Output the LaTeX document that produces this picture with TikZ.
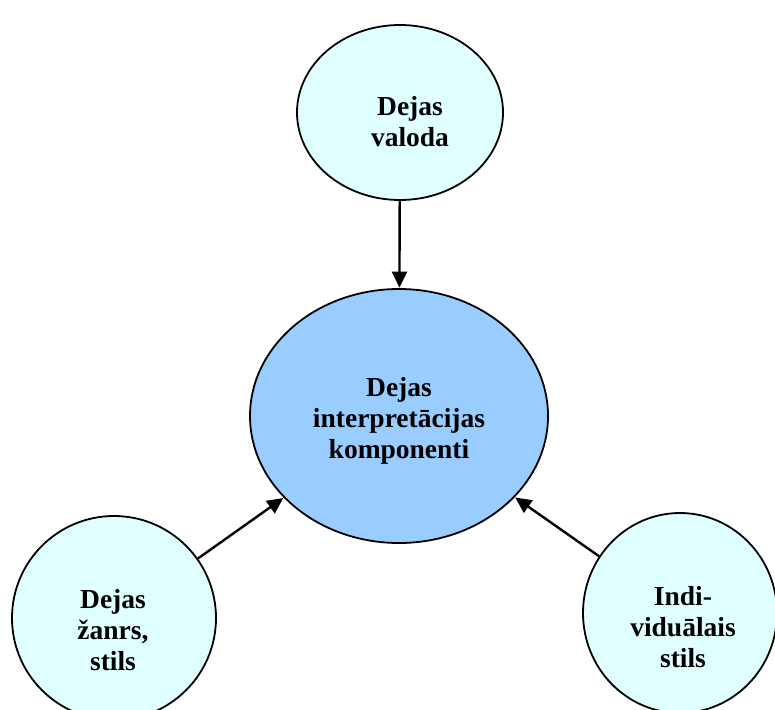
\documentclass[tikz,border=0pt]{standalone}
\usepackage{fontspec}
\setmainfont{Liberation Serif}
\usetikzlibrary{shapes.geometric,arrows.meta}
\begin{document}
\begin{tikzpicture}[x=1pt,y=-1pt,
  bubble/.style={ellipse,draw=black,line width=1.8pt,inner sep=0pt},
  outer/.style={bubble,fill={rgb,255:red,224;green,255;blue,255}},
  core/.style={bubble,fill={rgb,255:red,153;green,204;blue,255}},
  caption/.style={align=center,font=\bfseries\fontsize{27.5}{31}\selectfont,inner sep=0pt},
  link/.style={line width=2.4pt,-{Triangle[length=16pt,width=15pt]},shorten >=0.5pt}
]
\useasboundingbox (0,0) rectangle (775,709);
\fill[white] (0,0) rectangle (775,709);
\begin{scope}
\clip (0,0) rectangle (775,709);
% the four ellipses
\node[outer,minimum width=206pt,minimum height=175pt] (lang) at (400,112.5) {};
\node[core,minimum width=298pt,minimum height=254pt] (core) at (399,416) {};
\node[outer,minimum width=204pt,minimum height=204pt] (genre) at (114,618) {};
\node[outer,minimum width=194pt,minimum height=200pt] (style) at (680,613) {};
\end{scope}
% captions
\node[caption] (langtxt) at (410,122) {Dejas\\valoda};
\node[caption] (coretxt) at (399,421) {Dejas\\interpretācijas\\komponenti};
\node[caption] (genretxt) at (113,630) {Dejas\\žanrs,\\stils};
\node[caption] (styletxt) at (683,627) {Indi-\\viduālais\\stils};
% arrows into the central ellipse
\draw[link] (lang) -- (core);
\draw[link] (genre) -- (core);
\draw[link] (style) -- (core);
\end{tikzpicture}
\end{document}
